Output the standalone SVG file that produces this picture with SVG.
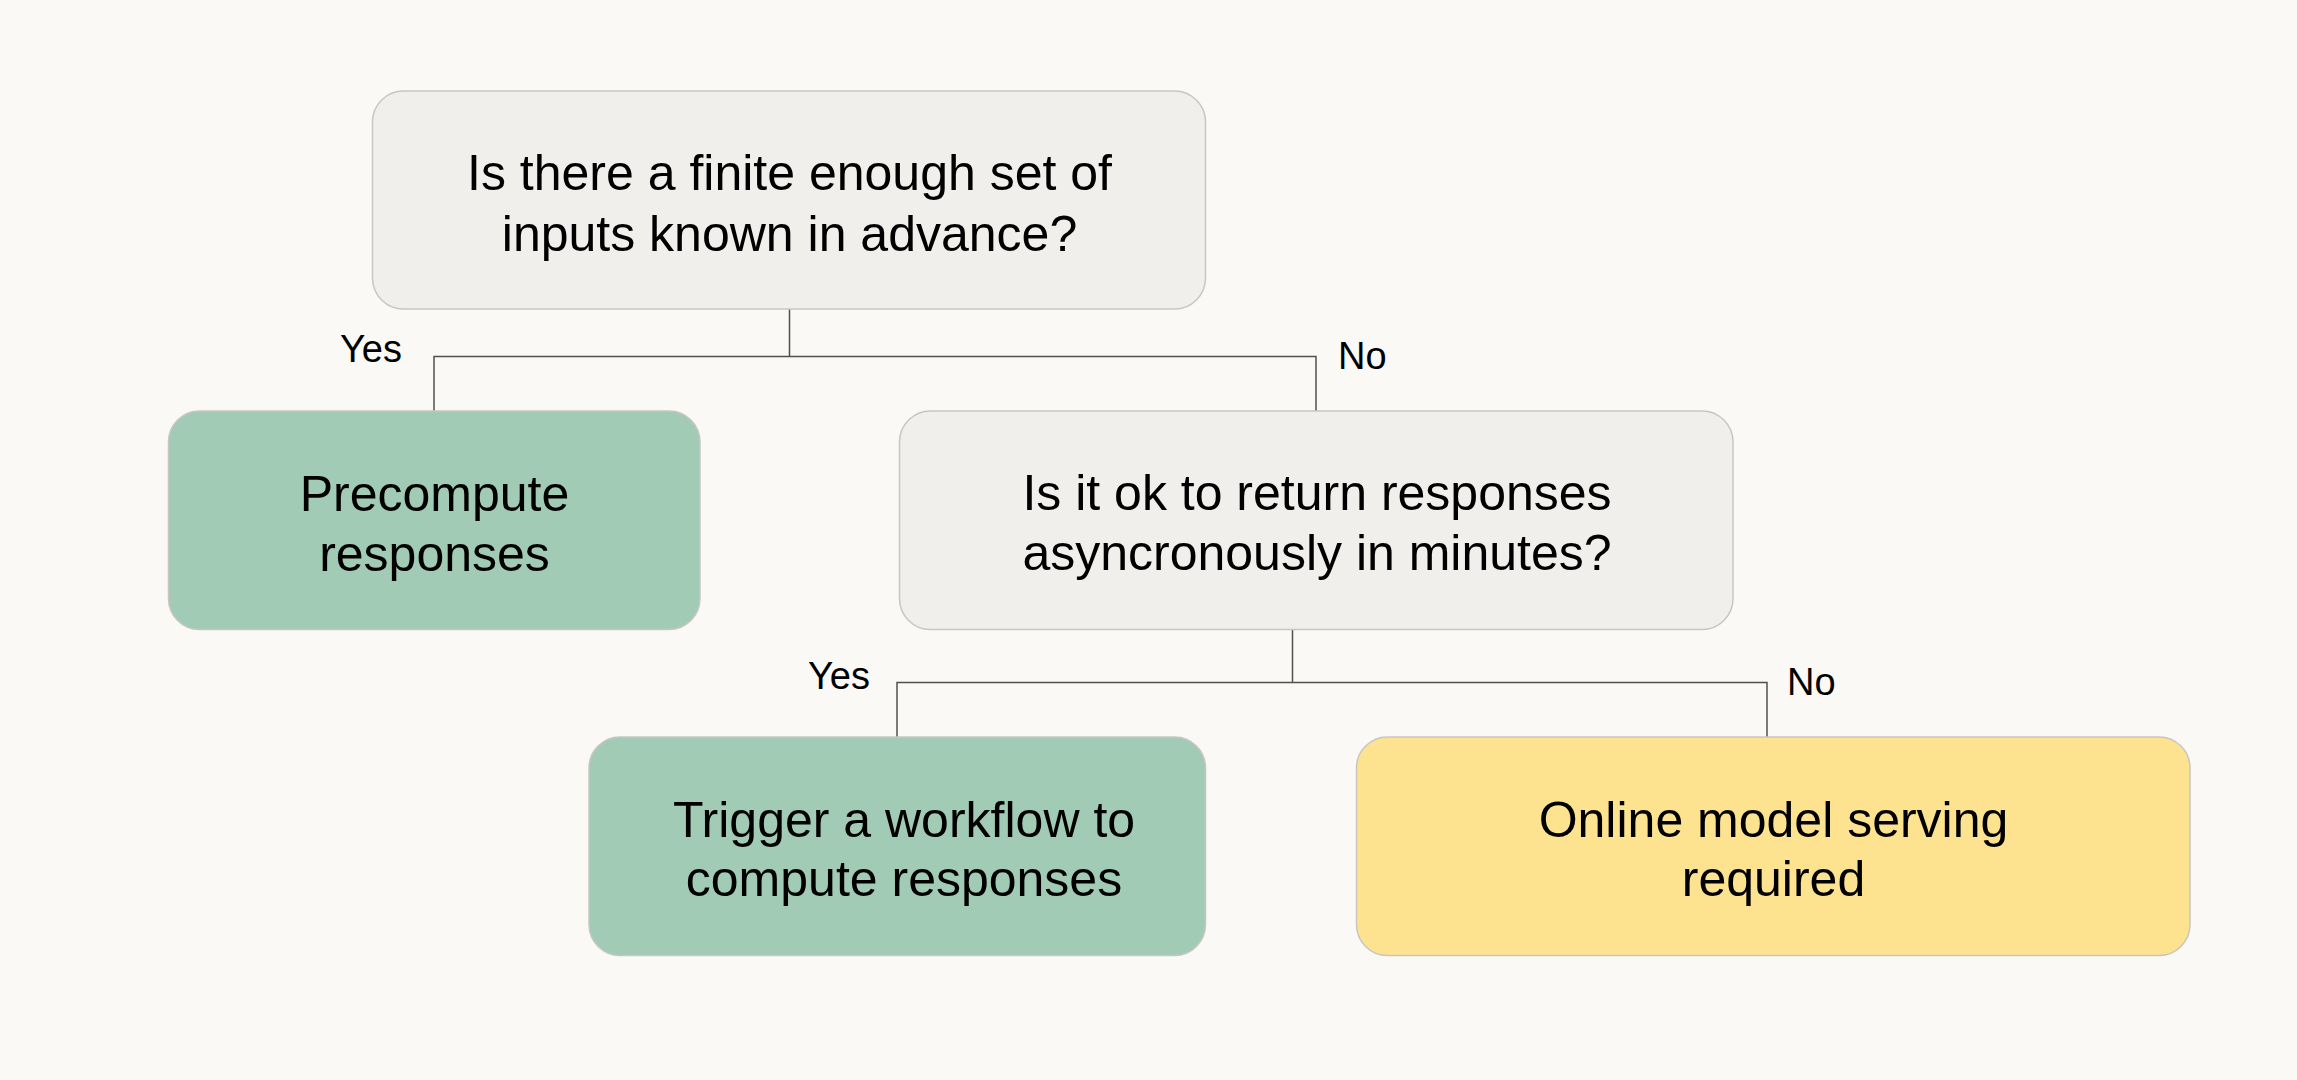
<svg xmlns="http://www.w3.org/2000/svg" width="2297" height="1080" viewBox="0 0 2297 1080">
<style>
.box{stroke:#c8c6c2;stroke-width:1.5}
.q{fill:#f1efeb}
.g{fill:#a1cbb5}
.y{fill:#fde290}
.t{font-family:"Liberation Sans",Arial,sans-serif;font-size:50px;fill:#000;text-anchor:middle}
.l{font-family:"Liberation Sans",Arial,sans-serif;font-size:38px;fill:#000}
.c{fill:none;stroke:#505050;stroke-width:1.5}
</style>
<rect width="2297" height="1080" fill="#faf9f6"/>
<g id="connectors">
<path class="c" d="M789.5 309 V356.5 M434 411 V356.5 H1316 V411"/>
<path class="c" d="M1292.5 629.5 V682.5 M897 737 V682.5 H1767 V737"/>
<text class="l" x="340" y="362">Yes</text>
<text class="l" x="1338" y="369">No</text>
<text class="l" x="808" y="689">Yes</text>
<text class="l" x="1787" y="695">No</text>
</g>
<g id="q1">
<rect class="box q" x="372.5" y="91" width="833" height="218" rx="31"/>
<text class="t" x="789.5" y="190">Is there a finite enough set of</text>
<text class="t" x="789.5" y="251">inputs known in advance?</text>
</g>
<g id="precompute">
<rect class="box g" x="168.5" y="411" width="531.5" height="218.5" rx="31"/>
<text class="t" x="434.5" y="511">Precompute</text>
<text class="t" x="434.5" y="571">responses</text>
</g>
<g id="q2">
<rect class="box q" x="899.5" y="411" width="833.5" height="218.5" rx="31"/>
<text class="t" x="1317" y="510">Is it ok to return responses</text>
<text class="t" x="1317" y="570">asyncronously in minutes?</text>
</g>
<g id="trigger">
<rect class="box g" x="589" y="737" width="616.5" height="218.5" rx="31"/>
<text class="t" x="904" y="836.5">Trigger a workflow to</text>
<text class="t" x="904" y="896">compute responses</text>
</g>
<g id="online">
<rect class="box y" x="1356.5" y="737" width="833.5" height="218.5" rx="31"/>
<text class="t" x="1773.5" y="836.5">Online model serving</text>
<text class="t" x="1773.5" y="896">required</text>
</g>
</svg>
